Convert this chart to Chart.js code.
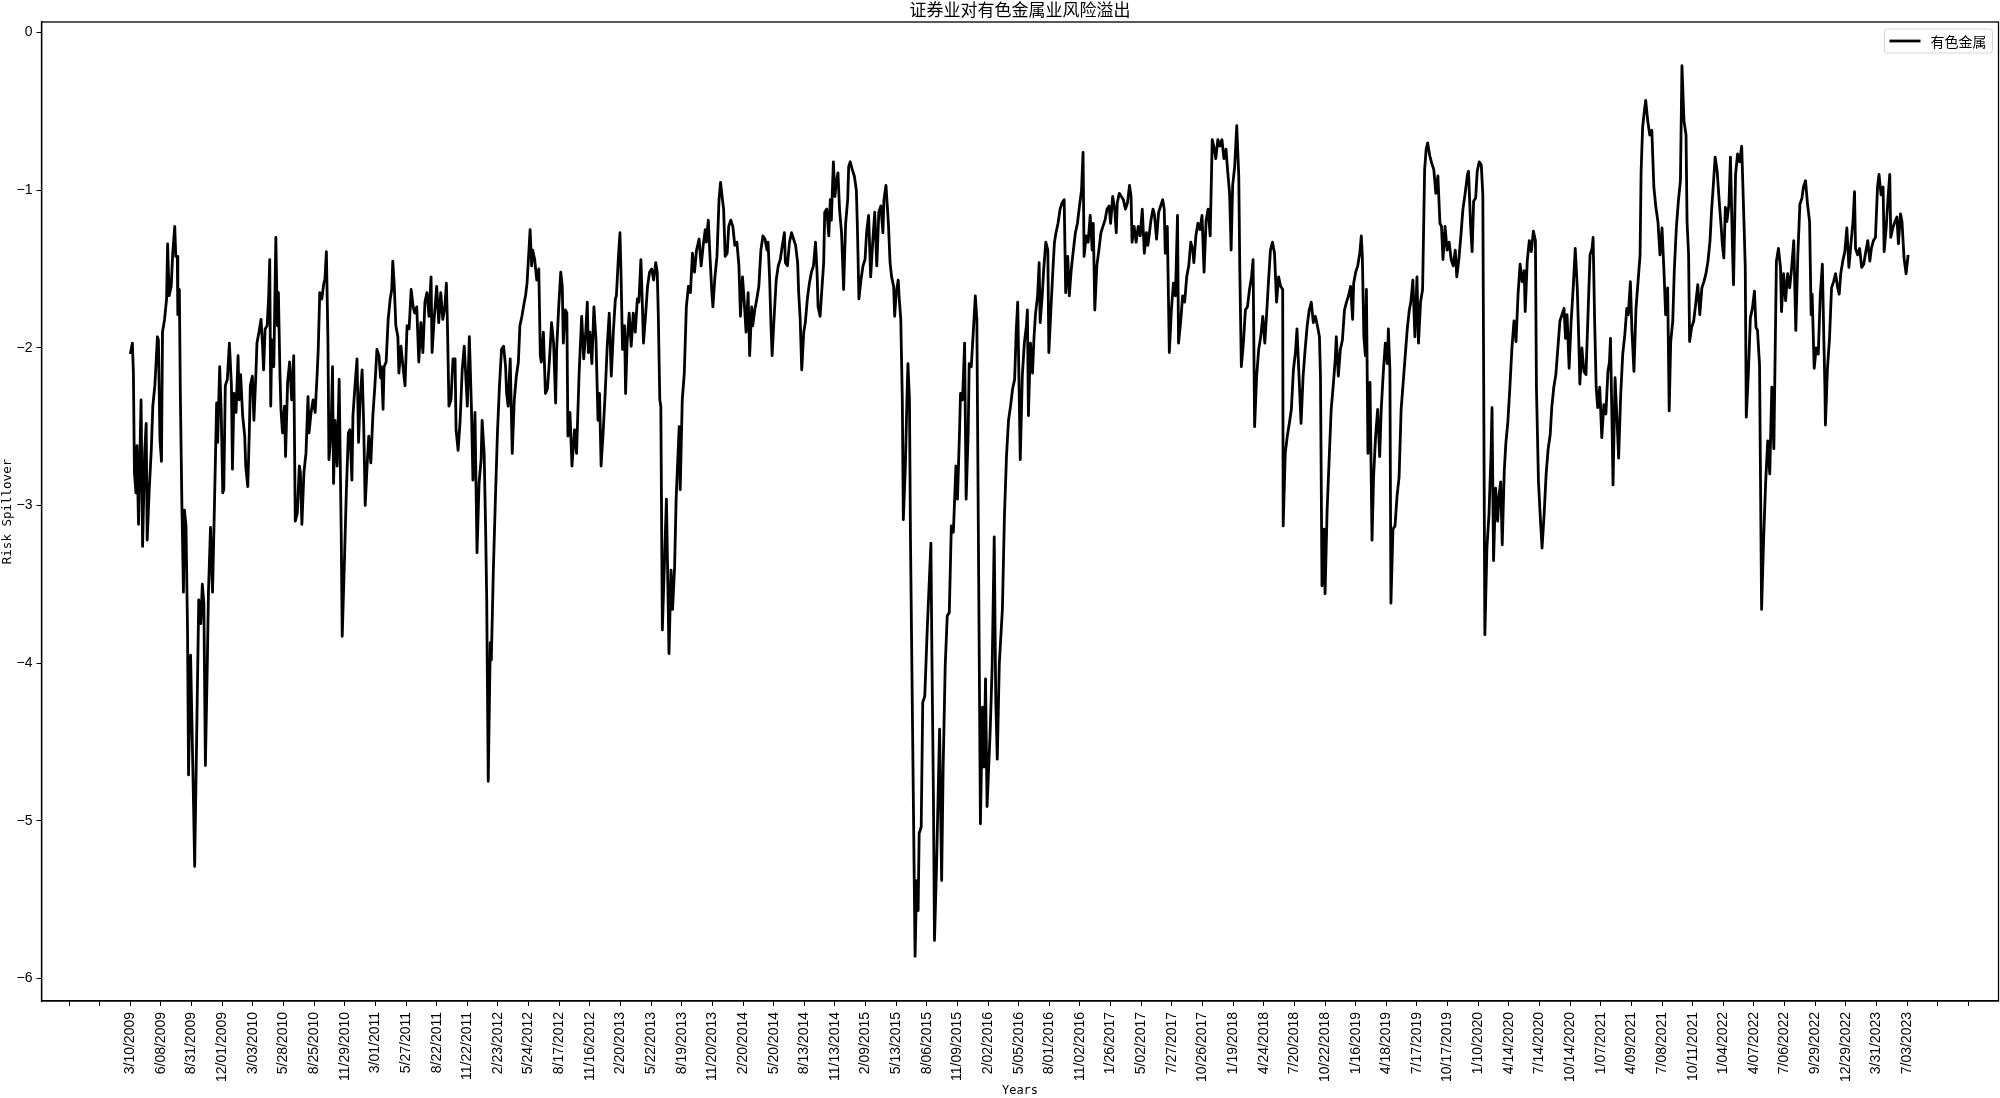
<!DOCTYPE html>
<html>
<head>
<meta charset="utf-8">
<script src="https://cdn.jsdelivr.net/npm/chart.js@4.4.0/dist/chart.umd.min.js"></script>
<style>
  html, body { margin: 0; padding: 0; background: #fff; }
  #wrap { width: 2000px; height: 1098px; }
</style>
</head>
<body>
<div id="wrap"><canvas id="canvas" width="2000" height="1098"></canvas></div>
<script>
// Tiêu đề và nhãn
const chartTitle = '证券业对有色金属业风险溢出';
const seriesName = '有色金属';

// Nhãn ngày cho các tick, mỗi 60 phiên giao dịch
const tickDates = [
  '3/10/2009', '6/08/2009', '8/31/2009', '12/01/2009', '3/03/2010', '5/28/2010', '8/25/2010', '11/29/2010',
  '3/01/2011', '5/27/2011', '8/22/2011', '11/22/2011', '2/23/2012', '5/24/2012', '8/17/2012', '11/16/2012',
  '2/20/2013', '5/22/2013', '8/19/2013', '11/20/2013', '2/20/2014', '5/20/2014', '8/13/2014', '11/13/2014',
  '2/09/2015', '5/13/2015', '8/06/2015', '11/09/2015', '2/02/2016', '5/05/2016', '8/01/2016', '11/02/2016',
  '1/26/2017', '5/02/2017', '7/27/2017', '10/26/2017', '1/19/2018', '4/24/2018', '7/20/2018', '10/22/2018',
  '1/16/2019', '4/18/2019', '7/17/2019', '10/17/2019', '1/10/2020', '4/14/2020', '7/14/2020', '10/14/2020',
  '1/07/2021', '4/09/2021', '7/08/2021', '10/11/2021', '1/04/2022', '4/07/2022', '7/06/2022', '9/29/2022',
  '12/29/2022', '3/31/2023', '7/03/2023'
];
const yTicks = [-6, -5, -4, -3, -2, -1, 0];

// Chỉ số phiên giao dịch (tính từ 3/10/2009)
const dayIdx = [
  0,4,6,8,11,13,16,21,24,28,31,33,37,41,44,48,50,53,55,58,61,63,67,71,73,76,80,83,87,89,92,93,96,98,101,104,106,109,112,114,118,124,126,
  134,138,141,144,147,151,153,157,161,165,169,171,175,178,181,183,186,190,194,198,200,203,207,211,213,216,220,224,226,230,233,235,239,242,246,248,
  252,256,259,261,264,268,271,273,275,277,281,285,288,290,293,295,298,302,304,308,312,316,320,323,327,331,333,336,340,344,348,350,354,358,362,366,368,
  371,375,379,381,384,387,389,393,396,398,401,405,409,413,415,419,423,427,430,434,436,440,444,447,450,454,457,460,464,467,471,475,479,483,487,490,492,
  495,497,501,505,509,512,514,517,520,524,526,530,534,538,542,546,550,554,557,561,565,569,573,577,581,585,589,591,595,600,604,608,612,616,619,621,
  624,628,632,636,638,642,646,650,654,658,660,664,668,671,675,679,683,687,689,693,696,698,701,705,707,711,715,719,723,727,731,735,737,740,744,748,
  752,756,760,763,767,770,774,777,780,783,786,788,792,796,800,803,805,809,813,817,821,825,829,833,835,839,843,846,848,852,855,857,861,865,870,
  874,879,884,888,892,895,897,900,904,908,912,916,919,922,926,930,934,938,942,946,950,952,956,959,961,964,968,970,973,977,981,985,989,993,996,
  1000,1003,1005,1009,1013,1017,1021,1025,1029,1032,1034,1037,1039,1042,1050,1055,1059,1062,1066,1069,1075,1077,1081,1085,1089,1093,1097,
  1101,1105,1109,1114,1118,1122,1126,1128,1132,1135,1139,1141,1145,1149,1153,1156,1159,1162,1165,1169,1172,1176,1180,1184,1188,1192,1195,1199,
  1202,1206,1210,1213,1217,1219,1223,1227,1231,1235,1239,1243,1247,1249,1252,1255,1257,1261,1265,1269,1273,1277,1281,1283,1287,1291,1295,1299,
  1303,1307,1309,1312,1315,1319,1322,1326,1330,1334,1338,1342,1345,1347,1351,1354,1358,1360,1364,1368,1371,1373,1377,1380,1382,1386,1389,1393,1397,
  1401,1405,1407,1410,1414,1418,1422,1424,1427,1431,1435,1439,1442,1446,1450,1454,1458,1462,1466,1470,1474,1476,1480,1483,1485,1488,1491,1495,1497,
  1500,1504,1506,1509,1512,1514,1518,1521,1523,1526,1528,1537,1540,1543,1545,1549,1552,1556,1561,1568,1570,1573,1575,1579,1585,1589,1592,1596,
  1600,1604,1608,1612,1617,1620,1624,1626,1630,1634,1637,1641,1643,1647,1651,1655,1658,1665,1669,1672,1675,1678,1684,1688,1692,1695,1698,
  1702,1708,1712,1716,1720,1724,1728,1732,1735,1738,
  1743,1747,1751,1755,1757,1759,1763,1767,1770,1773,1777,1780,1782,1786,1789,1793,1797,1799,1803,1807,1810,1813,1817,1821,1825,1829,1832,1836,1839,
  1843,1847,1851,1855,1859,1863,1866,1868,1872,1876,1880,1884,1886,1889,1893,1897,1901,1905,1909,1913,1917,1920,1924,1928,1931,1933,1937,1941,1945,
  1949,1953,1957,1960,1962,1966,1970,1974,1978,1982,1986,1990,1993,1999,2003,2006,2010,2014,2018,2022,2025,2027,2031,2035,2039,2043,2047,2051,2053,
  2057,2061,2065,2069,2073,2077,2081,2083,2087,2091,2095,2099,2103,2107,2111,2115,2119,2122,2126,2130,2134,2138,2142,2146,2149,2153,2156,2159,2163,
  2167,2171,2173,2176,2180,2184,2188,2192,2196,2199,2202,2206,2210,2214,2218,2222,2226,2229,2233,2237,2241,2245,2249,2253,2257,2258,2262,2266,2270,
  2274,2278,2282,2285,2289,2293,2297,2301,2305,2309,2313,2317,2321,2325,2329,2331,2334,2338,2340,2344,2348,2352,2356,2360,2362,2366,2370,2374,2378,
  2382,2386,2390,2394,2396,2400,2404,2408,2411,2413,2416,2419,2421,2424,2428,2432,2435,2439,2443,2447,2450,2454,2458,2462,2464,2467,2469,2473,2477,
  2481,2485,2489,2493,2497,2501,2505,2508,2512,2516,2520,2523,2527,2531,2535,2538,2541,2545,2549,2553,2557,2561,2565,2568,2571,2575,2579,2583,2587,
  2591,2595,2598,2602,2606,2610,
  2614,2619,2621,2625,2628,2631,2635,2638,2642,2646,2649,2653,2657,2661,2665,2667,2670,2674,2678,2681,2684,2687,2691,2694,2698,2702,2706,2710,2714,
  2718,2722,2726,2730,2732,2736,2740,2744,2748,2752,2754,2758,2762,2765,2769,2773,2777,2781,2784,2788,2792,2796,2800,2804,2808,2811,2814,2818,2822,
  2826,2830,2834,2837,2839,2843,2847,2851,2855,2859,2863,2865,2868,2871,2874,2878,2882,2886,2890,2894,2897,2899,2902,2904,2908,2912,2915,2919,2923,
  2927,2931,2934,2938,2941,2945,2949,2953,2957,2959,2962,2966,2968,2972,2976,2980,2984,2988,2992,2996,3000,3004,3007,3011,3014,3017,3021,3024,3028,
  3032,3036,3039,3043,3047,3049,3052,3054,3058,3062,3066,3070,3074,3078,3082,3086,3090,3094,3097,3101,3104,3108,3112,3116,3118,3121,3124,3127,3131,
  3134,3138,3140,3144,3148,3152,3156,3160,3163,3165,3169,3173,3177,3181,3184,3187,3191,3195,3199,3203,3207,3211,3215,3219,3221,3224,3228,3232,3234,
  3238,3242,3246,3250,3254,3258,3262,3266,3270,3274,3277,3281,3285,3289,3292,3294,3298,3302,3306,3310,3314,3317,3319,3320,3324,3328,3332,3336,3340,
  3344,3347,3350,3354,3358,3362,3366,3370,3374,3377,3379,3383,3387,3391,3395,3399,3403,3407,3410,3414,3418,3422,3425,3429,3433,3435,3439,3443,3446,
  3448,3452,3456,3460,3463,3467,3470,3474,3478,3482,3483
];

// Giá trị lan tỏa rủi ro tương ứng
const spill = [
  -2.04,-1.97,-2.16,-2.79,-2.92,-2.62,-3.12,-2.33,-3.26,-2.67,-2.48,-3.22,-2.90,-2.65,-2.37,-2.24,-2.12,-1.93,-1.95,-2.58,-2.72,-1.90,-1.82,-1.69,-1.34,-1.67,-1.61,-1.40,-1.23,-1.42,-1.42,-1.79,-1.63,-2.31,-3.00,-3.55,-3.03,-3.13,-3.79,-4.71,-3.95,-4.93,-5.29,
  -3.60,-3.75,-3.50,-3.62,-4.65,-3.96,-3.55,-3.14,-3.55,-2.96,-2.35,-2.60,-2.12,-2.41,-2.92,-2.90,-2.24,-2.20,-1.97,-2.24,-2.77,-2.29,-2.41,-2.05,-2.33,-2.17,-2.43,-2.56,-2.75,-2.88,-2.54,-2.24,-2.18,-2.46,-2.16,-1.97,
  -1.90,-1.82,-1.99,-2.14,-1.88,-1.86,-1.67,-1.44,-2.37,-1.95,-2.12,-1.30,-1.86,-1.65,-2.16,-2.39,-2.54,-2.37,-2.69,-2.22,-2.09,-2.33,-2.05,-3.10,-3.05,-2.75,-2.79,-3.12,-2.79,-2.67,-2.31,-2.54,-2.41,-2.33,-2.41,-2.16,-2.01,
  -1.65,-1.69,-1.59,-1.57,-1.39,-1.95,-2.71,-2.54,-2.12,-2.86,-2.46,-2.75,-2.20,-3.17,-3.83,-3.39,-2.92,-2.54,-2.52,-2.84,-2.43,-2.24,-2.07,-2.60,-2.33,-2.14,-2.48,-3.00,-2.73,-2.56,-2.73,-2.43,-2.24,-2.01,-2.05,-2.19,-2.12,
  -2.39,-2.12,-2.09,-1.82,-1.69,-1.63,-1.45,-1.61,-1.86,-1.93,-2.16,-1.99,-2.12,-2.24,-1.86,-1.88,-1.63,-1.74,-1.78,-1.74,-2.09,-1.84,-2.03,-1.71,-1.65,-1.80,-1.55,-2.03,-1.82,-1.61,-1.84,-1.65,-1.82,-1.74,-1.59,-1.84,
  -2.37,-2.33,-2.07,-2.07,-2.52,-2.65,-2.46,-2.14,-1.99,-2.24,-2.37,-1.93,-2.37,-2.84,-2.41,-3.30,-2.86,-2.71,-2.46,-2.67,-3.17,-3.60,-4.75,-3.87,-3.98,-3.41,-2.96,-2.54,-2.24,-2.01,-1.99,-2.12,-2.29,-2.37,-2.07,-2.67,
  -2.33,-2.18,-2.09,-1.86,-1.80,-1.74,-1.67,-1.59,-1.42,-1.25,-1.48,-1.38,-1.44,-1.57,-1.50,-2.05,-2.09,-1.90,-2.29,-2.26,-2.07,-1.84,-1.97,-2.35,-2.01,-1.74,-1.52,-1.61,-1.97,-1.76,-1.78,-2.56,-2.41,-2.75,-2.52,
  -2.67,-2.16,-1.80,-2.07,-1.90,-1.71,-2.03,-1.90,-2.10,-1.74,-1.95,-2.46,-2.29,-2.75,-2.54,-2.29,-1.99,-1.78,-2.18,-1.90,-1.69,-1.67,-1.42,-1.27,-1.52,-2.01,-1.86,-2.29,-1.97,-1.78,-1.99,-1.78,-1.90,-1.69,-1.71,
  -1.44,-1.74,-1.97,-1.80,-1.61,-1.52,-1.50,-1.57,-1.46,-1.52,-1.78,-2.33,-2.37,-3.79,-2.96,-3.94,-3.41,-3.66,-3.39,-2.96,-2.50,-2.90,-2.33,-2.16,-1.74,-1.61,-1.65,
  -1.40,-1.52,-1.38,-1.31,-1.48,-1.35,-1.25,-1.33,-1.19,-1.40,-1.65,-1.74,-1.55,-1.42,-1.06,-0.95,-1.04,-1.12,-1.42,-1.40,-1.23,-1.19,-1.23,-1.35,-1.33,-1.48,-1.80,-1.55,
  -1.69,-1.90,-1.65,-2.05,-1.74,-1.86,-1.76,-1.69,-1.61,-1.38,-1.29,-1.31,-1.38,-1.33,-1.55,-1.88,-2.05,-1.80,-1.57,-1.48,-1.44,-1.35,-1.27,-1.46,-1.48,-1.33,-1.27,-1.31,
  -1.35,-1.46,-1.65,-1.82,-2.14,-1.90,-1.84,-1.69,-1.59,-1.52,-1.48,-1.33,-1.52,-1.74,-1.80,-1.65,-1.46,-1.14,-1.12,-1.29,-1.06,-1.19,-0.82,-1.04,-0.97,-0.89,-1.12,-1.27,-1.63,
  -1.21,-1.06,-0.85,-0.82,-0.87,-0.91,-1.00,-1.23,-1.69,-1.57,-1.48,-1.44,-1.27,-1.16,-1.55,-1.33,-1.14,-1.48,-1.14,-1.10,-1.27,-1.06,-0.97,-1.12,-1.23,-1.46,-1.55,-1.61,-1.80,
  -1.65,-1.57,-1.69,-1.82,-2.33,-3.09,-2.75,-2.33,-2.10,-2.33,-3.22,-5.86,-5.38,-5.57,-5.08,-5.04,-4.25,-4.21,-3.77,-3.24,-3.96,-4.87,-5.76,-5.29,-4.42,-5.38,-4.66,-4.02,
  -3.70,-3.68,-3.13,-3.17,-2.75,-2.96,-2.54,-2.29,-2.33,-1.97,-2.96,-2.54,-2.10,-2.12,-1.90,-1.67,-1.82,-5.02,-4.28,-4.66,-4.10,-4.91,-4.44,-4.02,-3.20,-4.23,-4.61,
  -4.00,-3.66,-3.07,-2.69,-2.46,-2.37,-2.26,-2.20,-1.90,-1.71,
  -2.71,-2.18,-1.97,-1.86,-1.76,-2.43,-1.97,-2.16,-1.93,-1.78,-1.67,-1.46,-1.84,-1.67,-1.50,-1.33,-1.38,-2.03,-1.76,-1.50,-1.33,-1.27,-1.21,-1.12,-1.08,-1.06,-1.65,-1.42,-1.67,
  -1.50,-1.38,-1.27,-1.21,-1.10,-1.00,-0.76,-1.42,-1.29,-1.33,-1.16,-1.38,-1.21,-1.76,-1.48,-1.38,-1.27,-1.23,-1.19,-1.12,-1.10,-1.21,-1.04,-1.12,-1.27,-1.08,-1.02,-1.04,-1.06,
  -1.12,-1.08,-0.97,-1.04,-1.33,-1.23,-1.33,-1.23,-1.29,-1.12,-1.40,-1.27,-1.35,-1.19,-1.12,-1.16,-1.31,-1.14,-1.10,-1.06,-1.12,-1.40,-1.23,-2.03,-1.76,-1.59,-1.67,-1.16,-1.97,
  -1.84,-1.67,-1.71,-1.55,-1.48,-1.33,-1.38,-1.46,-1.29,-1.21,-1.25,-1.16,-1.52,-1.19,-1.12,-1.29,-0.68,-0.72,-0.80,-0.68,-0.72,-0.68,-0.80,-0.74,-0.87,-1.02,-1.38,-0.97,-0.85,
  -0.59,-0.91,-1.50,-2.12,-1.97,-1.76,-1.74,-1.63,-1.55,-1.44,-2.50,-2.18,-2.01,-1.93,-1.80,-1.97,-1.76,-1.59,-1.38,-1.33,-1.40,-1.71,-1.55,-1.61,-1.63,-3.13,-2.67,-2.56,-2.48,
  -2.39,-2.14,-2.03,-1.88,-2.18,-2.48,-2.18,-2.01,-1.86,-1.76,-1.71,-1.84,-1.80,-1.86,-1.93,-2.18,-3.51,-3.15,-3.56,-3.03,-2.71,-2.39,-2.24,-2.07,-1.93,-2.18,-2.01,-1.95,-1.76,
  -1.71,-1.67,-1.61,-1.82,-1.59,-1.52,-1.48,-1.40,-1.29,-1.42,-1.93,-2.05,-1.63,-2.67,-2.22,-3.22,-2.82,-2.56,-2.39,-2.69,-2.39,-2.16,-1.97,-2.10,-1.88,-2.14,-3.62,-3.15,-3.13,
  -2.94,-2.82,-2.39,-2.22,-2.05,-1.88,-1.76,-1.71,-1.57,-1.93,-1.55,-1.97,-1.71,-1.63,-0.87,-0.74,-0.70,-0.78,-0.83,-0.87,-1.02,-0.91,-1.21,-1.23,-1.44,-1.23,-1.38,-1.33,-1.44,
  -1.48,-1.38,-1.55,-1.44,-1.29,-1.12,
  -1.03,-0.90,-0.88,-1.22,-1.39,-1.07,-1.05,-0.88,-0.82,-0.84,-1.03,-3.82,-3.27,-3.06,-2.68,-2.38,-3.35,-2.89,-3.10,-2.93,-2.85,-3.25,-2.78,-2.61,-2.47,-2.25,-2.00,-1.83,-1.96,
  -1.66,-1.47,-1.58,-1.51,-1.77,-1.45,-1.32,-1.39,-1.26,-1.32,-2.25,-2.85,-3.10,-3.27,-3.06,-2.80,-2.64,-2.55,-2.38,-2.25,-2.17,-2.00,-1.83,-1.79,-1.75,-1.94,-1.79,-2.13,-1.83,
  -1.62,-1.37,-1.62,-1.96,-2.23,-2.00,-2.15,-2.17,-1.79,-1.41,-1.37,-1.30,-1.83,-2.25,-2.38,-2.25,-2.57,-2.36,-2.42,-2.15,-2.09,-1.94,-2.47,-2.87,-2.19,-2.47,-2.70,-2.30,-2.04,
  -1.92,-1.75,-1.79,-1.58,-1.89,-2.15,-1.75,-1.58,-1.41,-0.88,-0.60,-0.48,-0.43,-0.56,-0.65,-0.62,-0.98,-1.11,-1.20,-1.41,-1.24,-1.53,-1.79,-1.62,-2.40,-1.96,-1.83,-1.51,-1.24,
  -1.07,-0.94,-0.21,-0.56,-0.65,-1.20,-1.41,-1.96,-1.87,-1.83,-1.72,-1.60,-1.79,-1.62,-1.58,-1.53,-1.45,-1.32,-1.13,-0.94,-0.79,-0.88,-1.07,-1.24,-1.34,-1.43,-1.11,-1.20,-1.09,
  -0.79,-1.37,-1.60,-0.90,-0.77,-0.82,-0.72,-1.15,-1.49,-2.44,-2.17,-1.81,-1.75,-1.64,-1.87,-1.89,-2.11,-3.66,-3.21,-2.85,-2.59,-2.80,-2.25,-2.64,-2.17,-1.45,-1.37,-1.49,-1.77,
  -1.53,-1.70,-1.53,-1.62,-1.49,-1.32,-1.89,-1.41,-1.09,-1.05,-0.98,-0.94,-1.09,-1.20,-1.79,-1.66,-2.13,-2.00,-2.04,-1.66,-1.47,-1.96,-2.25,-2.49,-2.13,-1.94,-1.62,-1.58,-1.53,
  -1.62,-1.66,-1.53,-1.45,-1.39,-1.24,-1.49,-1.34,-1.20,-1.01,-1.37,-1.41,-1.37,-1.49,-1.47,-1.39,-1.32,-1.45,-1.37,-1.32,-1.30,-0.98,-0.90,-1.03,-0.98,-1.39,-1.24,-1.03,-0.90,
  -1.30,-1.24,-1.20,-1.17,-1.34,-1.15,-1.20,-1.43,-1.53,-1.41,-1.41
];

const points = dayIdx.map((d, i) => ({ x: d, y: spill[i] }));

// Tick trục x: hai tick trống ở mỗi đầu
const xTickVals = [];
for (let v = -120; v <= 3600; v += 60) xTickVals.push(v);

const monoFont = "'DejaVu Sans Mono', 'Liberation Mono', monospace";
const tickFont = "'Liberation Sans', Arial, sans-serif";
const cjkFont = "'Noto Sans CJK SC', sans-serif";

// Khung, tiêu đề và chú thích kiểu matplotlib
const framePlugin = {
  id: 'frame',
  afterDraw(chart) {
    const { ctx, chartArea: a } = chart;
    ctx.save();
    ctx.strokeStyle = '#000';
    ctx.lineWidth = 1.3;
    ctx.strokeRect(a.left, a.top, a.right - a.left, a.bottom - a.top);

    ctx.fillStyle = '#000';
    ctx.font = '17px ' + cjkFont;
    ctx.textAlign = 'center';
    ctx.textBaseline = 'middle';
    ctx.fillText(chartTitle, (a.left + a.right) / 2, 10);

    // chú thích
    const w = 108, h = 24;
    const x = a.right - 6 - w, y = a.top + 7;
    ctx.fillStyle = 'rgba(255,255,255,0.8)';
    ctx.strokeStyle = '#d6d6d6';
    ctx.lineWidth = 1;
    ctx.beginPath();
    ctx.roundRect(x, y, w, h, 3);
    ctx.fill();
    ctx.stroke();
    ctx.strokeStyle = '#000';
    ctx.lineWidth = 2.8;
    ctx.beginPath();
    ctx.moveTo(x + 5, y + h / 2);
    ctx.lineTo(x + 36, y + h / 2);
    ctx.stroke();
    ctx.fillStyle = '#000';
    ctx.font = '14px ' + cjkFont;
    ctx.textAlign = 'left';
    ctx.fillText(seriesName, x + 46, y + h / 2 + 1);
    ctx.restore();
  }
};

const config = {
  type: 'line',
  data: {
    datasets: [{
      label: seriesName,
      data: points,
      borderColor: '#000',
      backgroundColor: '#000',
      borderWidth: 2.8,
      pointRadius: 0,
      tension: 0,
      borderJoinStyle: 'round'
    }]
  },
  options: {
    responsive: false,
    animation: false,
    layout: { padding: { top: 22, right: 1.5, left: 0, bottom: 0 } },
    plugins: {
      legend: { display: false },
      title: { display: false },
      tooltip: { enabled: false }
    },
    scales: {
      x: {
        type: 'linear',
        min: -174,
        max: 3659,
        afterBuildTicks: (scale) => { scale.ticks = xTickVals.map(v => ({ value: v })); },
        afterFit: (scale) => { scale.height = 97; },
        ticks: {
          autoSkip: false,
          minRotation: 90,
          maxRotation: 90,
          padding: 6,
          color: '#000',
          font: { family: tickFont, size: 14 },
          callback: (value) => {
            const i = value / 60;
            return (i >= 0 && i < tickDates.length) ? tickDates[i] : '';
          }
        },
        grid: { display: true, drawOnChartArea: false, drawTicks: true, tickLength: 5, color: '#000', lineWidth: 1 },
        border: { display: true, color: '#000', width: 1.3 },
        title: {
          display: true,
          text: 'Years',
          color: '#000',
          font: { family: monoFont, size: 12 },
          padding: { top: 0, bottom: 0 }
        }
      },
      y: {
        min: -6.144,
        max: 0.067,
        afterBuildTicks: (scale) => { scale.ticks = yTicks.map(v => ({ value: v })); },
        afterFit: (scale) => { scale.width = 41.5; },
        ticks: {
          padding: 4,
          color: '#000',
          font: { family: tickFont, size: 14 },
          callback: (value) => (value < 0 ? '\u2212' + Math.abs(value) : String(value))
        },
        grid: { display: true, drawOnChartArea: false, drawTicks: true, tickLength: 5, color: '#000', lineWidth: 1 },
        border: { display: true, color: '#000', width: 1.3 },
        title: {
          display: true,
          text: 'Risk Spillover',
          color: '#000',
          font: { family: monoFont, size: 12.5 },
          padding: { top: 0, bottom: 0 }
        }
      }
    }
  },
  plugins: [framePlugin]
};

const canvas = document.getElementById('canvas');
const chart = new Chart(canvas, config);
</script>
</body>
</html>
